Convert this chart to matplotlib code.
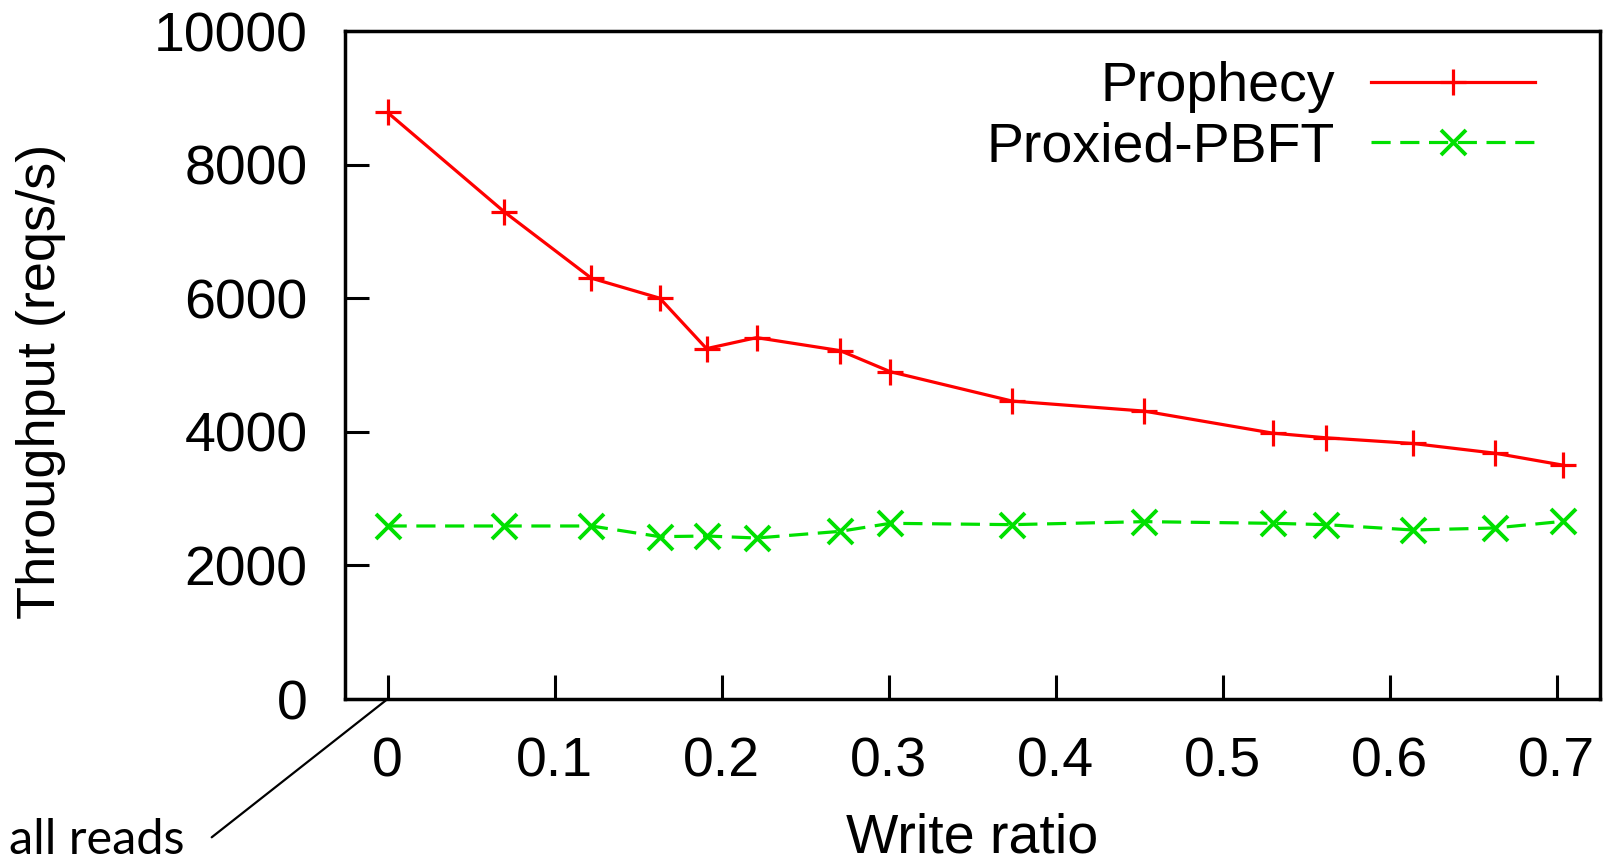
import matplotlib
matplotlib.use("Agg")
import matplotlib.pyplot as plt

# Data
write_ratio = [0.0, 0.07, 0.122, 0.163, 0.191, 0.221, 0.271, 0.301, 0.374,
               0.453, 0.530, 0.562, 0.614, 0.663, 0.704]
prophecy = [8780, 7290, 6300, 6000, 5245, 5410, 5215, 4900, 4460,
            4310, 3980, 3910, 3825, 3680, 3500]
proxied_pbft = [2590, 2590, 2590, 2430, 2440, 2410, 2510, 2630, 2610,
                2655, 2630, 2610, 2530, 2560, 2660]
x_ticks = [0, 0.1, 0.2, 0.3, 0.4, 0.5, 0.6, 0.7]
x_ticklabels = ['0', '0.1', '0.2', '0.3', '0.4', '0.5', '0.6', '0.7']
y_ticks = [0, 2000, 4000, 6000, 8000, 10000]

plt.rcParams['font.family'] = ['Liberation Sans', 'DejaVu Sans']
FS = 40

W, H = 1616, 865
fig = plt.figure(figsize=(W / 100, H / 100), dpi=100)
ax = fig.add_axes([345 / W, 1 - 699 / H, (1600 - 345) / W, (699 - 31) / H])

ax.plot(write_ratio, prophecy, color='#ff0000', lw=2.3, marker='+',
        markersize=19, mew=2.3, label='Prophecy')
ax.plot(write_ratio, proxied_pbft, color='#00e000', lw=2.3,
        linestyle=(0, (6, 3)), marker='x', markersize=18, mew=2.8,
        label='Proxied-PBFT')

ax.set_xlim(-0.0255, 0.726)
ax.set_ylim(0, 10000)
ax.set_xticks(x_ticks)
ax.set_xticklabels(x_ticklabels)
ax.set_yticks(y_ticks)

for s in ax.spines.values():
    s.set_linewidth(2.5)
ax.tick_params(direction='in', length=17, width=2.2, labelsize=FS, pad=27,
               top=False, right=False)

ax.set_xlabel('Write ratio', fontsize=FS)
ax.xaxis.set_label_coords(0.5, -0.170)
ax.set_ylabel('Throughput (reqs/s)', fontsize=39)
ax.yaxis.set_label_coords(-0.222, 0.476)

leg = ax.legend(loc='upper right', bbox_to_anchor=(0.948, 0.955),
                frameon=False, markerfirst=False, fontsize=FS,
                handlelength=2.95, handletextpad=0.65, labelspacing=0.15,
                borderpad=0, borderaxespad=0)

# "all reads" annotation
ax.annotate('', xy=(0, 0), xycoords='data',
            xytext=(211.7, H - 837.3), textcoords='figure pixels',
            arrowprops=dict(arrowstyle='-', lw=1.6, color='black',
                            shrinkA=0, shrinkB=0),
            annotation_clip=False)
fig.text(9 / W, 11 / H, 'all reads', fontsize=35, family=['Lato', 'DejaVu Sans'],
         ha='left', va='baseline')

fig.savefig('out.png', dpi=100)
